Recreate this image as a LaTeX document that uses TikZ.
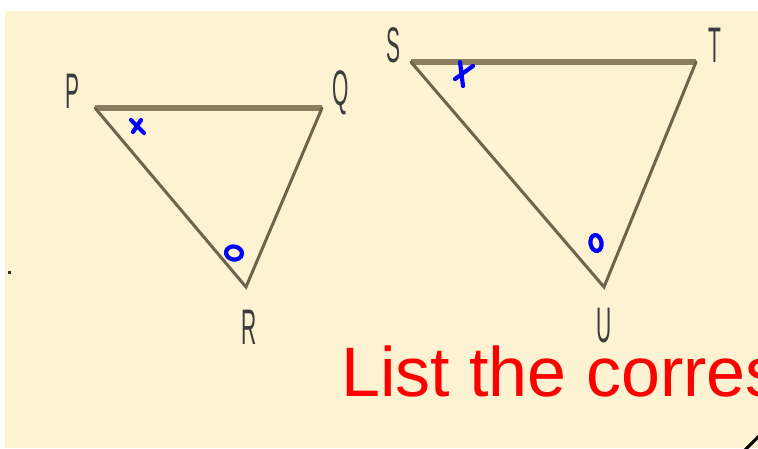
\documentclass[tikz,border=0pt]{standalone}
\usepackage{fontspec}
\setmainfont{Liberation Sans}
\definecolor{cream}{RGB}{253,243,210}
\definecolor{edgetop}{RGB}{138,126,96}
\definecolor{edgeside}{RGB}{110,100,76}
\definecolor{lblgray}{RGB}{60,60,60}
\definecolor{penblue}{RGB}{0,0,255}
\begin{document}
\begin{tikzpicture}[x=1pt,y=-1pt,
  topedge/.style={draw=edgetop,line width=5.5pt},
  sideedge/.style={draw=edgeside,line width=3pt,line cap=round},
  vlabel/.style={text=lblgray,font=\fontsize{50}{50}\selectfont,xscale=0.42,inner sep=0pt,anchor=center},
  penmark/.style={draw=penblue,line width=4.2pt,line cap=round},
]
\useasboundingbox (0,0) rectangle (758,448);
\fill[white] (0,0) rectangle (758,448);
\fill[cream] (5,11) rectangle (758,448);
% vertices
\coordinate (P) at (95,108);
\coordinate (Q) at (322,108);
\coordinate (R) at (246,287);
\coordinate (S) at (411,62);
\coordinate (T) at (696,62);
\coordinate (U) at (604,287);
% triangles
\draw[topedge] (P) -- (Q);
\draw[sideedge] (P) -- (R) -- (Q);
\draw[topedge] (S) -- (T);
\draw[sideedge] (S) -- (U) -- (T);
% labels
\node[vlabel] (lP) at (73,91) {P};
\node[vlabel] (lQ) at (341,93) {Q};
\node[vlabel] (lR) at (249,327) {R};
\node[vlabel] (lS) at (393,45) {S};
\node[vlabel] (lT) at (715,45) {T};
\node[vlabel] (lU) at (604,326) {U};
% blue marks
\draw[penmark] (131,120) -- (144,133);
\draw[penmark] (141,120) -- (133,132);
\draw[penmark] (455,79) -- (473,66);
\draw[penmark] (460,62) -- (463,86);
\draw[penmark,rotate around={-10:(234,253)}] (234,253) ellipse [x radius=8, y radius=6.5];
\draw[penmark,rotate around={10:(596,243)}] (596,243) ellipse [x radius=5.5, y radius=8];
% stray mark
\fill[black!80] (8,271) rectangle (11,274);
% red text
\begin{scope}
\clip (0,0) rectangle (758,448);
\node[anchor=base west,text=red,font=\fontsize{70}{70}\selectfont,inner sep=0pt] (txt) at (341,396) {List the corres};
\draw[black,line width=3pt] (745,450) -- (760,435);
\end{scope}
\end{tikzpicture}
\end{document}
